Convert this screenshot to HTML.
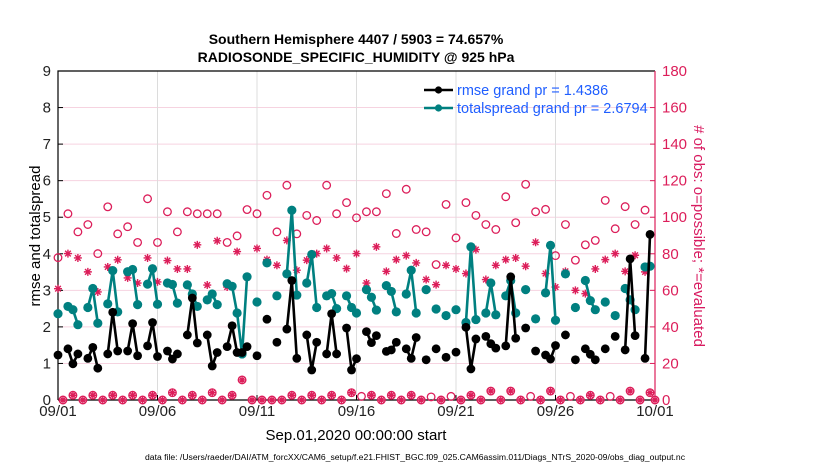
<!DOCTYPE html>
<html><head><meta charset="utf-8"><style>
body{margin:0;background:#fff;}
svg text{font-family:"Liberation Sans",Arial,sans-serif;}
</style></head><body>
<svg id="chart" width="830" height="470" viewBox="0 0 830 470" xmlns="http://www.w3.org/2000/svg">
<rect width="830" height="470" fill="#fff"/>
<text x="356" y="44" text-anchor="middle" font-size="14" font-weight="bold">Southern Hemisphere 4407 / 5903 = 74.657%</text>
<text x="356" y="62" text-anchor="middle" font-size="14" font-weight="bold">RADIOSONDE_SPECIFIC_HUMIDITY @ 925 hPa</text>
<g id="grid"></g>
<g id="axes"></g>
<g id="marks"></g>
<text transform="translate(40,236) rotate(-90)" text-anchor="middle" font-size="15">rmse and totalspread</text>
<text transform="translate(694,236) rotate(90)" text-anchor="middle" font-size="15" fill="#d81b60"># of obs: o=possible; *=evaluated</text>
<text x="356" y="440" text-anchor="middle" font-size="15">Sep.01,2020 00:00:00 start</text>
<text x="415" y="460" text-anchor="middle" font-size="8" textLength="540" lengthAdjust="spacingAndGlyphs">data file: /Users/raeder/DAI/ATM_forcXX/CAM6_setup/f.e21.FHIST_BGC.f09_025.CAM6assim.011/Diags_NTrS_2020-09/obs_diag_output.nc</text>
<g id="legend"></g>
</svg>
<script>
const N = null;
const rmse = [1.23,N,1.40,0.99,1.26,N,1.14,1.44,0.87,N,1.26,2.40,1.34,N,1.34,2.09,1.21,N,1.48,2.12,1.19,N,1.34,1.12,1.26,N,1.78,2.79,1.56,N,1.78,0.93,1.30,N,1.46,2.03,1.30,1.30,1.46,N,1.21,N,2.21,N,1.58,N,1.94,3.27,1.14,N,1.78,0.82,1.58,N,1.26,2.36,1.26,N,1.97,0.82,1.13,N,1.87,1.57,1.76,N,1.33,1.37,1.58,N,1.40,1.14,1.71,N,1.10,N,1.40,N,1.17,N,1.31,N,1.99,0.85,1.67,N,1.74,1.54,1.42,N,1.48,3.37,1.69,N,1.97,N,1.34,N,1.23,1.12,1.49,N,1.78,N,1.10,N,1.40,1.25,1.10,N,1.40,N,1.74,N,1.37,3.86,1.76,N,1.14,4.53,N];
const spread = [2.36,N,2.56,2.47,2.06,N,2.53,3.05,2.10,N,2.63,3.54,2.41,N,3.51,3.57,2.61,N,3.17,3.59,2.62,N,3.20,3.16,2.65,N,3.15,2.90,2.56,N,2.74,2.90,2.61,N,3.18,3.11,2.38,1.26,3.37,N,2.68,N,3.75,N,2.85,N,3.45,5.19,2.87,N,3.20,3.98,2.53,N,2.85,2.91,2.50,N,2.85,2.53,2.38,N,3.02,2.81,2.46,N,3.13,2.97,2.41,N,2.90,3.55,2.38,N,3.02,N,2.49,N,2.31,N,2.47,N,2.12,4.19,2.20,N,2.38,3.20,2.33,N,2.85,3.27,2.38,N,3.02,N,2.22,N,2.93,4.23,2.18,N,3.45,N,2.53,N,3.27,2.72,2.47,N,2.68,N,2.31,N,3.05,2.74,2.47,N,3.64,3.66,N];
const possible = [77.9,0,101.9,2.6,92,0,96,2.6,80.1,0,105.7,2.6,90.9,0,94.8,2.6,86.2,0,110.1,2.6,86.2,0,103,4,92,0,103,2.6,101.9,0,101.9,4,101.9,0,86.2,2.6,89.8,11,104.2,0,101.9,0,112,0,92,0,117.5,2.6,90.9,0,101,2.6,98.2,0,117.5,2.6,101.9,0,108,4,99.7,2,103,2.6,103,0,112.9,2.6,91.1,0,115.3,2.6,93.3,0,92,1.7,74.1,0,107,2,88.7,0,108,2.6,101,0,96,4.9,93.3,0,111.2,4.9,97,0,118,2,103,0,104.3,4.9,79,0,96,2,76.5,0,84.9,2.6,87.3,0,109.2,2,93.7,0,105.8,4.9,96,0,103.9,4,0];
const evaluated = [60.9,0,80.1,2.6,77.7,0,70.1,2.6,59.1,0,72.8,2.6,76.7,0,66.8,2.6,64,0,77.7,2.6,64.6,0,76.3,4,71.7,0,71.7,2.6,84.9,0,62.9,4,87.1,0,61.8,2.6,81.2,11,67,0,82.9,0,76.8,0,73.7,0,87.3,2.6,71,0,76.5,2.6,80.1,0,82.9,2.6,77.7,0,71.9,4,80.1,N,64,2.6,83.8,0,70.4,2.6,76.8,0,79,2.6,75,0,65.9,N,63.1,0,73.7,N,71.7,0,69.2,2.6,82.3,0,65.9,4.9,73.7,0,76.8,4.9,77.7,0,73.2,N,86.3,0,69.2,4.9,61.8,0,70.4,N,60,0,58.2,2.6,71.7,0,76.8,N,80.1,0,70.4,4.9,79.2,0,70.1,4,0];
const xTickLabels = ["09/01","09/06","09/11","09/16","09/21","09/26","10/01"];
const yTickLabels = ["0","1","2","3","4","5","6","7","8","9"];
const rTickLabels = ["0","20","40","60","80","100","120","140","160","180"];
const legendLabels = ["rmse grand pr = 1.4386","totalspread grand pr = 2.6794"];

const L=58, R=655, T=71, B=400, PINK="#dc1e5a", TEAL="#008080";
const xs = i => L + (R-L)*i/120;            // i = 6-hour step index
const xd = d => L + (R-L)*d/30;             // day offset
const ys = v => B - (B-T)*v/9;
const yr = v => B - (B-T)*v/180;
const NS="http://www.w3.org/2000/svg";
function mk(tag, parent, attrs){const e=document.createElementNS(NS,tag);for(const k in attrs)e.setAttribute(k,attrs[k]);parent.appendChild(e);return e;}
const grid=document.getElementById('grid'), axes=document.getElementById('axes'), marks=document.getElementById('marks'), legend=document.getElementById('legend');

yTickLabels.forEach((t,k)=>{
  if(k>0&&k<9){const g=mk('line',grid,{x1:L,x2:R,y1:ys(k),y2:ys(k),stroke:'#f6d3e0','stroke-width':1});
  
  }
  const tk=mk('line',axes,{x1:L,x2:L+5,y1:ys(k),y2:ys(k),stroke:'#000'});
  
  
  const tx=mk('text',axes,{x:L-7,y:ys(k)+5,'text-anchor':'end','font-size':15,fill:'#222'});tx.textContent=t;
  
  
});
rTickLabels.forEach((t,k)=>{
  const v=k*20;
  const tk=mk('line',axes,{x1:R-5,x2:R,y1:yr(v),y2:yr(v),stroke:PINK});
  
  
  const tx=mk('text',axes,{x:R+7,y:yr(v)+5,'font-size':15,fill:PINK});tx.textContent=t;
  
  
});
xTickLabels.forEach((t,k)=>{
  const x=xd(k*5);
  if(k>0&&k<6){const g=mk('line',grid,{x1:x,x2:x,y1:T,y2:B,stroke:'#dcdcdc','stroke-width':1});
  
  }
  const tk=mk('line',axes,{x1:x,x2:x,y1:B,y2:B-5,stroke:'#000'});
  
  
  const tx=mk('text',axes,{x:x,y:416,'text-anchor':'middle','font-size':15,fill:'#222'});tx.textContent=t;
  
  
});
const fr=mk('path',axes,{d:`M${L},${B}V${T}H${R}`,fill:'none',stroke:'#000','stroke-width':1.2});


const rb=mk('line',axes,{x1:R,x2:R,y1:T,y2:B,stroke:PINK,'stroke-width':1.2});


const bb=mk('line',axes,{x1:L,x2:R,y1:B,y2:B,stroke:'#000','stroke-width':1.2});



function star(parent,x,y,s){
  let d='';
  for(let a=0;a<4;a++){const an=a*Math.PI/4;const dx=s*Math.cos(an),dy=s*Math.sin(an);d+=`M${x-dx},${y-dy}L${x+dx},${y+dy}`;}
  return mk('path',parent,{d:d,stroke:PINK,'stroke-width':1.4,fill:'none'});
}
possible.forEach((v,i)=>{
  if(v===null)return;
  const c=mk('circle',marks,{cx:xs(i),cy:yr(v),r:3.8,fill:'none',stroke:PINK,'stroke-width':1.3});
  
  
});
evaluated.forEach((v,i)=>{
  if(v===null)return;
  const s=star(marks,xs(i),yr(v),4);
  
  
});
function series(arr,color,r,w,name){
  let d='',pen=false;
  arr.forEach((v,i)=>{ if(v===null){pen=false;return;} d+=(pen?'L':'M')+xs(i)+','+ys(v); pen=true; });
  const p=mk('path',marks,{d:d,fill:'none',stroke:color,'stroke-width':w,'stroke-linejoin':'round'});
  
  
  arr.forEach((v,i)=>{ if(v===null)return;
    const c=mk('circle',marks,{cx:xs(i),cy:ys(v),r:r,fill:color});
    
    
  });
}
series(spread,TEAL,4.6,2.6,'totalspread');
series(rmse,'#000',4.4,2.6,'rmse');

[['#000'],[TEAL]].forEach((c,k)=>{
  const y=90+k*18;
  const ln=mk('line',legend,{x1:424,x2:453,y1:y,y2:y,stroke:c[0],'stroke-width':2.6});
  
  
  const dt=mk('circle',legend,{cx:438.5,cy:y,r:3.6,fill:c[0]});
  
  
  const tx=mk('text',legend,{x:457,y:y+5,'font-size':14.5,fill:'#1f5eff'});tx.textContent=legendLabels[k];
  
  
});
</script>
</body></html>
